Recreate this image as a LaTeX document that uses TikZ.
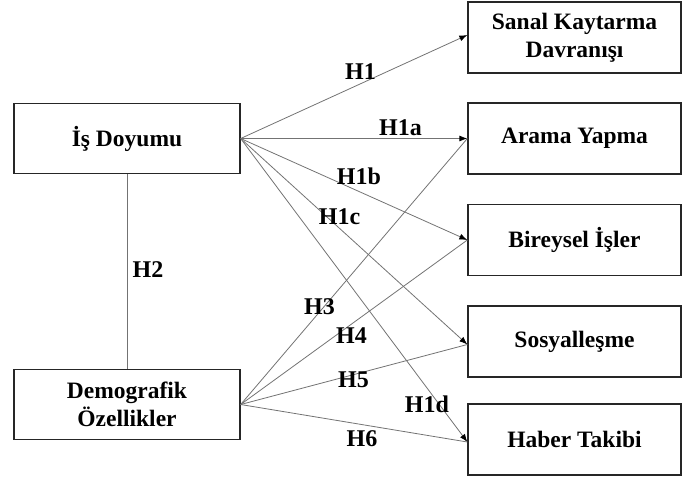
\documentclass[tikz,border=0pt]{standalone}
\usepackage{fontspec}
\setmainfont{Liberation Serif}
\usetikzlibrary{arrows.meta}
\begin{document}
\begin{tikzpicture}[x=1pt,y=-1pt,
  box/.style={draw=black!85,line width=1.3pt,minimum width=226pt,minimum height=70pt,inner sep=0pt,align=center,font=\fontsize{23.5}{28}\selectfont\bfseries},
  rbox/.style={box,minimum width=213pt,minimum height=71pt},
  conn/.style={draw=black!55,line width=0.8pt},
  arr/.style={conn,-{Latex[length=8pt,width=6pt,black]}},
  lbl/.style={font=\fontsize{24}{26}\selectfont\bfseries,inner sep=0pt}]
\useasboundingbox (0,0) rectangle (682,480);
\node[box] (is) at (127,138.5) {İş Doyumu};
\node[box] (dem) at (127,404.5) {Demografik\\Özellikler};
\node[rbox] (r1) at (574.5,37.5) {Sanal Kaytarma\\Davranışı};
\node[rbox] (r2) at (574.5,138.5) {Arama Yapma};
\node[rbox] (r3) at (574.5,240) {Bireysel İşler};
\node[rbox] (r4) at (574.5,341.5) {Sosyalleşme};
\node[rbox] (r5) at (574.5,439.5) {Haber Takibi};
\draw[conn] (is.south) -- (dem.north);
\draw[arr] (is.east) -- ([yshift=2.5pt]r1.west);
\draw[arr] (is.east) -- (r2.west);
\draw[arr] (is.east) -- (r3.west);
\draw[arr] (is.east) -- ([yshift=-3pt]r4.west);
\draw[arr] (is.east) -- ([yshift=-2.5pt]r5.west);
\draw[conn] (dem.east) -- (r2.west);
\draw[conn] (dem.east) -- (r3.west);
\draw[conn] (dem.east) -- ([yshift=-3pt]r4.west);
\draw[conn] (dem.east) -- ([yshift=-2.5pt]r5.west);
\node[lbl] (h1) at (360.5,71.5) {H1};
\node[lbl] (h1a) at (400.5,128) {H1a};
\node[lbl] (h1b) at (359,176) {H1b};
\node[lbl] (h1c) at (339.5,216.5) {H1c};
\node[lbl] (h2) at (148,270) {H2};
\node[lbl] (h3) at (319.5,306.5) {H3};
\node[lbl] (h4) at (351.5,335.5) {H4};
\node[lbl] (h5) at (353.5,380) {H5};
\node[lbl] (h1d) at (427,404) {H1d};
\node[lbl] (h6) at (362,439) {H6};
\end{tikzpicture}
\end{document}
